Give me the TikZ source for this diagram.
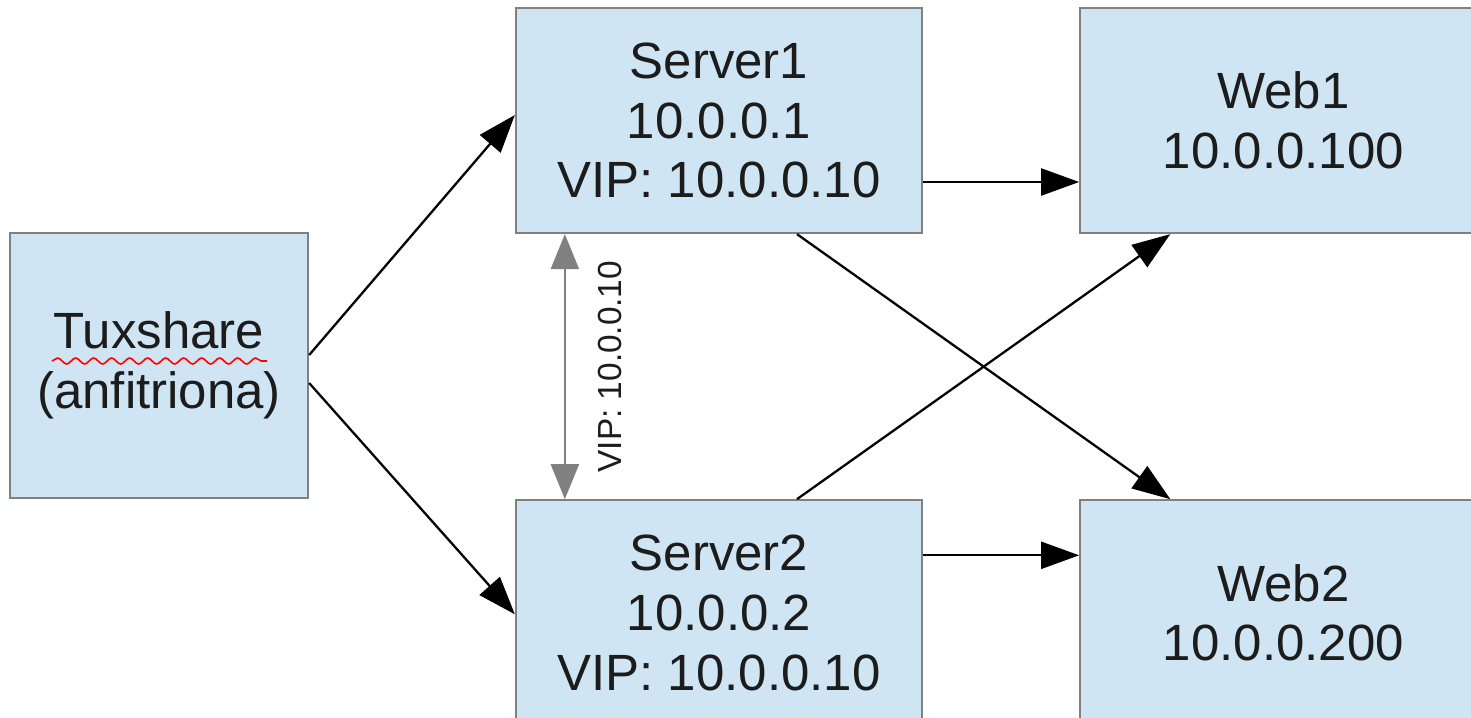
\documentclass[tikz,border=0pt]{standalone}
\usepackage{fontspec}
\setmainfont{Liberation Sans}
\usepackage{tikz}
\usetikzlibrary{arrows.meta,calc,positioning,decorations.pathmorphing}
\definecolor{boxfill}{RGB}{207,229,243}
\definecolor{boxline}{RGB}{128,128,128}
\definecolor{txt}{RGB}{28,28,28}
\tikzset{
    host/.style={rectangle, draw=boxline, fill=boxfill, line width=1.3pt,
        minimum width=8.12cm, minimum height=4.5cm, align=center, inner sep=0pt},
    vipline/.style={{Triangle[length=0.7cm,width=0.56cm]}-{Triangle[length=0.7cm,width=0.56cm]},
        draw=boxline, line width=1.3pt},
    spell/.style={draw=red, line width=0.9pt, decorate,
        decoration={snake, segment length=0.36cm, amplitude=0.06cm}}
}

\begin{document}
\begin{tikzpicture}[
  >={Triangle[length=0.76cm,width=0.54cm]},
  node distance=5.3cm and 3.12cm,
  every node/.style={text=txt, font=\fontsize{29}{34}\selectfont},
  edge/.style={->, line width=1.3pt, draw=black}
]
\clip (0,0) rectangle (29.42,-14.34);

% ---- hosts ----
\node[host, minimum width=5.96cm, minimum height=5.3cm] (tux) at (3.18,-7.31) {Tuxshare\\(anfitriona)};
\node[host] (srv1) at (14.38,-2.41) {Server1\\10.0.0.1\\VIP: 10.0.0.10};
\node[host] (srv2) [below=of srv1] {Server2\\10.0.0.2\\VIP: 10.0.0.10};
\node[host] (web1) [right=of srv1] {Web1\\10.0.0.100};
\node[host] (web2) [right=of srv2] {Web2\\10.0.0.200};

% ---- spell-check mark under Tuxshare ----
\draw[spell] ($(tux.center)+(-2.14,0.09)$) -- ($(tux.center)+(2.16,0.09)$);

% ---- edges: host to servers ----
\draw[edge] ($(tux.east)+(0,0.21)$) -- ($(srv1.west)+(0,0.11)$);
\draw[edge] ($(tux.east)+(0,-0.35)$) -- ($(srv2.west)+(0,-0.03)$);

% ---- edges: servers to web ----
\draw[edge] ($(srv1.east)+(0,-1.23)$) -- ($(web1.west)+(0,-1.23)$);
\draw[edge] ($(srv2.east)+(0,1.15)$) -- ($(web2.west)+(0,1.15)$);
\draw[edge] ($(srv1.south)+(1.56,0)$) -- ($(web2.north)+(-2.26,0)$);
\draw[edge] ($(srv2.north)+(1.56,0)$) -- ($(web1.south)+(-2.26,0)$);

% ---- shared VIP ----
\draw[vipline] ($(srv1.south west)+(1,0)$) -- ($(srv2.north west)+(1,0)$);
\node[rotate=90, font=\fontsize{19}{22}\selectfont] (viplbl)
  at ($(srv1.south west)!0.5!(srv2.north west)+(1.91,0)$) {VIP: 10.0.0.10};

\end{tikzpicture}
\end{document}
